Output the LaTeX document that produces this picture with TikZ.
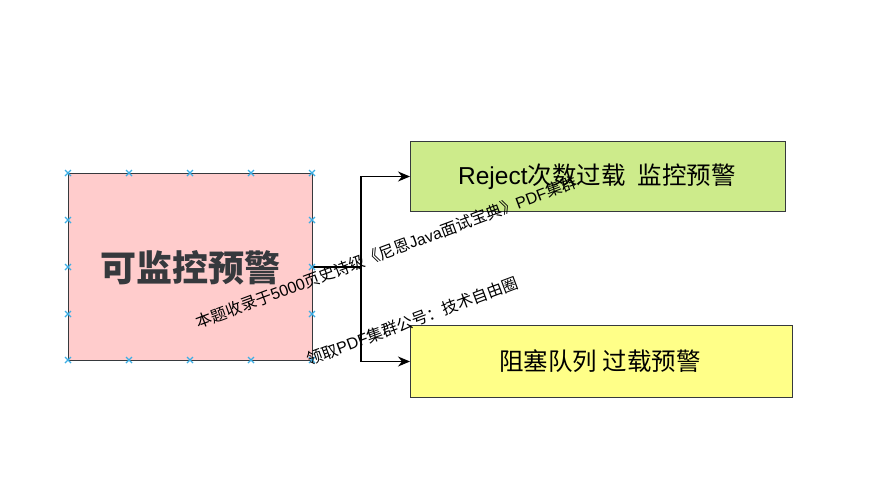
\documentclass[tikz,border=0pt]{standalone}
\usepackage{fontspec}
\setmainfont{Liberation Sans}
\newfontfamily\cjk{Noto Sans CJK SC}
\usetikzlibrary{arrows.meta}
\definecolor{edge}{HTML}{36393D}
\definecolor{pinkfill}{HTML}{FFCCCC}
\definecolor{greenfill}{HTML}{CDEB8B}
\definecolor{yellowfill}{HTML}{FFFF88}
\definecolor{mark}{HTML}{3BAEE5}
\tikzset{
  x=1pt, y=-1pt,
  box/.style={draw=edge, line width=1pt, inner sep=0pt, anchor=north west},
  conn/.style={draw=black, line width=1.2pt, -{Stealth[length=12pt,width=10pt]}},
  wm/.style={rotate=20.5, font=\fontsize{16}{16}\selectfont, text=black, inner sep=0pt},
  xmark/.style={draw=mark, line width=1.2pt}
}
\begin{document}
\begin{tikzpicture}
\useasboundingbox (0,0) rectangle (873,493);
\node[box, fill=pinkfill, minimum width=244pt, minimum height=187pt] (main) at (68,173) {};
\node[font=\cjk\bfseries\fontsize{36}{36}\selectfont, text=edge] (maint) at (190,268) {可监控预警};
\node[box, fill=greenfill, minimum width=375pt, minimum height=70pt] (g) at (410,141) {};
\node[font=\fontsize{24.5}{24.5}\selectfont] (gt) at (597,177) {Reject{\cjk 次数过载\hspace{0.5em}监控预警}};
\node[box, fill=yellowfill, minimum width=382pt, minimum height=72pt] (yb) at (410,325) {};
\node[font=\cjk\fontsize{24.5}{24.5}\selectfont] (yt) at (600,361) {阻塞队列 过载预警};
\coordinate (j) at (361,267);
\draw[conn] (main.east) -- (j) |- (g.west);
\draw[conn] (j) |- (yb.west);
\foreach \xx in {68,129,190,251,312}{
  \foreach \yy in {173,360}{
    \draw[xmark] (\xx-3,\yy-3) -- (\xx+3,\yy+3) (\xx-3,\yy+3) -- (\xx+3,\yy-3);
  }
}
\foreach \yy in {220,267,314}{
  \foreach \xx in {68,312}{
    \draw[xmark] (\xx-3,\yy-3) -- (\xx+3,\yy+3) (\xx-3,\yy+3) -- (\xx+3,\yy-3);
  }
}
\node[wm] (w1) at (386,252) {{\cjk 本题收录于}5000{\cjk 页史诗级《尼恩}Java{\cjk 面试宝典》}PDF{\cjk 集群}};
\node[wm] (w2) at (412,321) {{\cjk 领取}PDF{\cjk 集群公号：技术自由圈}};
\end{tikzpicture}
\end{document}
